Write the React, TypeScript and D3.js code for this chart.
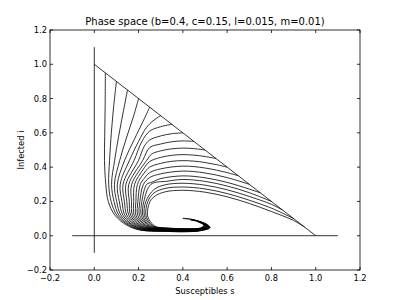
import React from "react";
import * as d3 from "d3";

// axis ticks
const xTicks = [-0.2, 0.0, 0.2, 0.4, 0.6, 0.8, 1.0, 1.2];
const yTicks = [-0.2, 0.0, 0.2, 0.4, 0.6, 0.8, 1.0, 1.2];

// reference lines
const sAxisLine: [number, number][] = [[-0.1, 0], [1.1, 0]];
const iAxisLine: [number, number][] = [[0, -0.1], [0, 1.1]];
const diagonal: [number, number][] = [[0, 1], [1, 0]];

// start of each trajectory (s0 on the line s + i = 1) and its upper part
const heads: [number, number][][] = [
  [[0.05, 0.95], [0.049, 0.75], [0.047, 0.58]],
  [[0.1, 0.9], [0.088, 0.76], [0.077, 0.6]],
  [[0.15, 0.85], [0.132, 0.73], [0.11, 0.58]],
  [[0.2, 0.8], [0.178, 0.7], [0.145, 0.57]],
  [[0.25, 0.75], [0.225, 0.68], [0.18, 0.56]],
  [[0.3, 0.7], [0.27, 0.675], [0.235, 0.63], [0.2, 0.55]],
  [[0.35, 0.65], [0.3, 0.636], [0.25, 0.61], [0.215, 0.55]],
  [[0.4, 0.6], [0.35, 0.595], [0.3, 0.582], [0.25, 0.558], [0.225, 0.52]],
  [[0.45, 0.55], [0.4, 0.553], [0.35, 0.548], [0.3, 0.535], [0.25, 0.514]],
  [[0.5, 0.5], [0.45, 0.508], [0.4, 0.511], [0.35, 0.507], [0.3, 0.495], [0.26, 0.477]],
  [[0.55, 0.45], [0.5, 0.462], [0.45, 0.47], [0.4, 0.473], [0.35, 0.469], [0.3, 0.457], [0.25, 0.432], [0.22, 0.385]],
  [[0.6, 0.4], [0.55, 0.415], [0.5, 0.427], [0.45, 0.435], [0.4, 0.438], [0.35, 0.434], [0.3, 0.422], [0.25, 0.4], [0.222, 0.36]],
  [[0.65, 0.35], [0.6, 0.368], [0.5, 0.395], [0.4, 0.406], [0.3, 0.39], [0.25, 0.368], [0.226, 0.335]],
  [[0.7, 0.3], [0.6, 0.339], [0.5, 0.366], [0.4, 0.377], [0.3, 0.361], [0.25, 0.339]],
  [[0.75, 0.25], [0.7, 0.272], [0.6, 0.311], [0.5, 0.338], [0.4, 0.349], [0.3, 0.333], [0.26, 0.312]],
  [[0.8, 0.2], [0.7, 0.251], [0.6, 0.29], [0.5, 0.317], [0.4, 0.328], [0.33, 0.318]],
  [[0.85, 0.15], [0.8, 0.183], [0.7, 0.229], [0.6, 0.268], [0.5, 0.295], [0.4, 0.306], [0.32, 0.297], [0.27, 0.27]],
  [[0.9, 0.1], [0.8, 0.161], [0.7, 0.207], [0.6, 0.246], [0.5, 0.273], [0.4, 0.284], [0.32, 0.276], [0.27, 0.25]],
  [[0.95, 0.05], [0.9, 0.089], [0.8, 0.141], [0.7, 0.188], [0.6, 0.227], [0.5, 0.254], [0.4, 0.265], [0.32, 0.256], [0.275, 0.232]],
];

// s where each trajectory crosses i = 0.44, 0.30, 0.20, 0.12 on its way down
const fanLevels = [0.44, 0.3, 0.2, 0.12];
const fan44 = [0.046, 0.069, 0.092, 0.115, 0.137, 0.159, 0.18, 0.2, 0.219, 0.237];
const fan30 = [0.052, 0.065, 0.078, 0.091, 0.104, 0.117, 0.13, 0.143, 0.156, 0.169, 0.182, 0.195, 0.208, 0.222, 0.237, 0.256];
const fan20 = [0.063, 0.076, 0.089, 0.101, 0.113, 0.125, 0.136, 0.147, 0.158, 0.168, 0.178, 0.188, 0.197, 0.206, 0.215, 0.224, 0.233, 0.242, 0.252];
const fan12 = [0.093, 0.102, 0.111, 0.12, 0.129, 0.138, 0.147, 0.156, 0.164, 0.172, 0.18, 0.188, 0.196, 0.204, 0.212, 0.219, 0.226, 0.233, 0.24];

// knee and bottom of each trajectory
const kneeS = [0.146, 0.153, 0.16, 0.167, 0.173, 0.18, 0.186, 0.193, 0.199, 0.206, 0.212, 0.218, 0.224, 0.23, 0.236, 0.241, 0.247, 0.253, 0.259];
const kneeI = [0.062, 0.063, 0.063, 0.064, 0.064, 0.065, 0.066, 0.066, 0.067, 0.067, 0.068, 0.069, 0.069, 0.07, 0.07, 0.071, 0.072, 0.072, 0.073];
const bendS = [0.206, 0.21, 0.214, 0.218, 0.222, 0.226, 0.23, 0.234, 0.238, 0.242, 0.246, 0.25, 0.254, 0.258, 0.262, 0.266, 0.27, 0.274, 0.278];
const bendI = [0.033, 0.034, 0.035, 0.036, 0.037, 0.039, 0.04, 0.041, 0.042, 0.043, 0.044, 0.045, 0.046, 0.047, 0.048, 0.05, 0.051, 0.052, 0.053];
const floorI = [0.025, 0.026, 0.027, 0.028, 0.029, 0.03, 0.032, 0.033, 0.034, 0.035, 0.036, 0.037, 0.038, 0.039, 0.04, 0.041, 0.042, 0.044, 0.045]; // at s = 0.33
const lowI = [0.023, 0.024, 0.025, 0.026, 0.027, 0.028, 0.029, 0.03, 0.031, 0.032, 0.033, 0.034, 0.035, 0.036, 0.037, 0.038, 0.039, 0.04, 0.041]; // at s = 0.41
const riseI = [0.029, 0.03, 0.031, 0.032, 0.032, 0.033, 0.034, 0.035, 0.036, 0.037, 0.038, 0.038, 0.039, 0.04, 0.041, 0.042, 0.043, 0.044, 0.045]; // at s = 0.48

// spiral tip and the arm that turns back left
const tipS = [0.523, 0.521, 0.52, 0.518, 0.516, 0.515, 0.513, 0.511, 0.51, 0.508, 0.506, 0.505, 0.503, 0.501, 0.5, 0.498, 0.496, 0.495, 0.493];
const tipI = [0.047, 0.048, 0.048, 0.049, 0.049, 0.05, 0.05, 0.051, 0.051, 0.052, 0.052, 0.053, 0.053, 0.054, 0.054, 0.055, 0.055, 0.056, 0.056];
const arm1S = [0.508, 0.507, 0.505, 0.504, 0.503, 0.502, 0.5, 0.499, 0.498, 0.497, 0.495, 0.494, 0.493, 0.492, 0.49, 0.489, 0.488, 0.486, 0.485];
const arm2I = [0.086, 0.085, 0.085, 0.084, 0.083, 0.083, 0.082, 0.082, 0.081, 0.08, 0.08, 0.079, 0.079, 0.078, 0.077, 0.077, 0.076, 0.075, 0.074]; // at s = 0.47
const arm3I = [0.097, 0.096, 0.095, 0.094, 0.093, 0.092, 0.091, 0.09, 0.089, 0.088, 0.087, 0.086, 0.085, 0.084, 0.083, 0.082, 0.081, 0.08, 0.079]; // at s = 0.435
const arm4I = [0.102, 0.1]; // at s = 0.40
const armCount = [4, 4, 3, 3, 3, 3, 2, 2, 2, 2, 2, 1, 1, 1, 1, 1, 0, 0, 0];

const W = 400;
const H = 300;
const left = 50, right = 360, top = 30, bottom = 270;

function trajectory(k: number): [number, number][] {
  const pts: [number, number][] = [...heads[k]];
  const fans = [fan44, fan30, fan20, fan12];
  fans.forEach((f, j) => {
    if (k < f.length) pts.push([f[k], fanLevels[j]]);
  });
  pts.push([kneeS[k], kneeI[k]]);
  pts.push([bendS[k], bendI[k]]);
  pts.push([0.33, floorI[k]]);
  pts.push([0.41, lowI[k]]);
  pts.push([0.48, riseI[k]]);
  pts.push([tipS[k], tipI[k]]);
  const arm: [number, number][] = [
    [arm1S[k], 0.066],
    [0.47, arm2I[k]],
    [0.435, arm3I[k]],
    [0.4, arm4I[k] ?? 0.1],
  ];
  for (let a = 0; a < armCount[k]; a++) pts.push(arm[a]);
  return pts;
}

export default function App() {
  const x = d3.scaleLinear().domain([-0.2, 1.2]).range([left, right]);
  const y = d3.scaleLinear().domain([-0.2, 1.2]).range([bottom, top]);
  const line = d3
    .line<[number, number]>()
    .x((d) => x(d[0]))
    .y((d) => y(d[1]))
    .curve(d3.curveCatmullRom.alpha(0.5));
  const straight = d3
    .line<[number, number]>()
    .x((d) => x(d[0]))
    .y((d) => y(d[1]));
  const fmt = (v: number) => d3.format(".1f")(v).replace("-", "\u2212");
  const font = "DejaVu Sans, sans-serif";

  return (
    <svg
      width={W}
      height={H}
      style={{ position: "absolute", left: 0, top: 0, display: "block" }}
      fontFamily={font}
    >
      <rect x={0} y={0} width={W} height={H} fill="#fff" />
      <g fill="none" stroke="#000" strokeWidth={0.8}>
        <path d={straight(sAxisLine) ?? ""} />
        <path d={straight(iAxisLine) ?? ""} />
        <path d={straight(diagonal) ?? ""} />
        {heads.map((_, k) => (
          <path key={k} d={line(trajectory(k)) ?? ""} />
        ))}
      </g>
      <rect x={left} y={top} width={right - left} height={bottom - top} fill="none" stroke="#000" strokeWidth={0.8} />
      <g stroke="#000" strokeWidth={0.8}>
        {xTicks.map((t) => (
          <g key={"x" + t}>
            <line x1={x(t)} x2={x(t)} y1={bottom} y2={bottom - 3} />
            <line x1={x(t)} x2={x(t)} y1={top} y2={top + 3} />
          </g>
        ))}
        {yTicks.map((t) => (
          <g key={"y" + t}>
            <line x1={left} x2={left + 3} y1={y(t)} y2={y(t)} />
            <line x1={right} x2={right - 3} y1={y(t)} y2={y(t)} />
          </g>
        ))}
      </g>
      <g fontSize={8.3} fill="#000">
        {xTicks.map((t) => (
          <text key={"xl" + t} x={x(t)} y={bottom + 11} textAnchor="middle">
            {fmt(t)}
          </text>
        ))}
        {yTicks.map((t) => (
          <text key={"yl" + t} x={left - 3} y={y(t) + 3} textAnchor="end">
            {fmt(t)}
          </text>
        ))}
        <text x={(left + right) / 2} y={294} textAnchor="middle">
          Susceptibles s
        </text>
        <text transform={`translate(24, ${(top + bottom) / 2}) rotate(-90)`} textAnchor="middle">
          Infected i
        </text>
      </g>
      <text x={(left + right) / 2} y={25} textAnchor="middle" fontSize={10}>
        Phase space (b=0.4, c=0.15, l=0.015, m=0.01)
      </text>
    </svg>
  );
}
